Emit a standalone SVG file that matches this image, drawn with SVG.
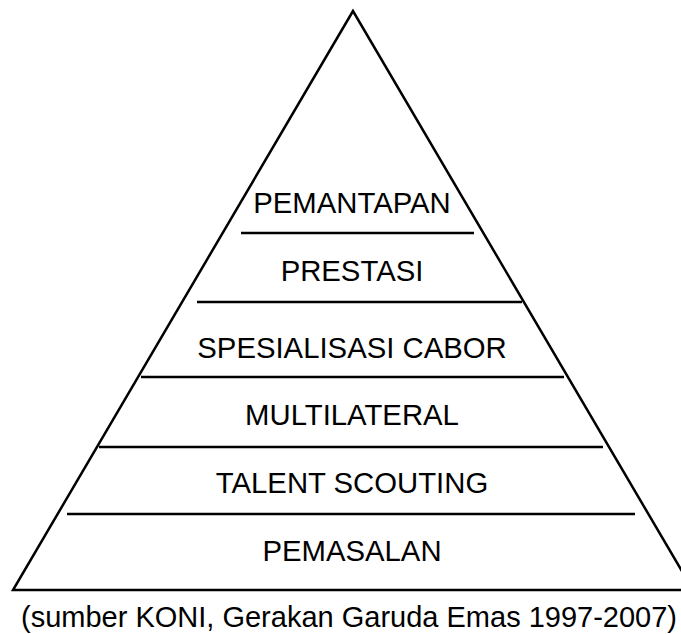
<svg xmlns="http://www.w3.org/2000/svg" width="681" height="634" viewBox="0 0 681 634">
<style>
.ln{stroke:#000;stroke-width:2.5;fill:none}
.t{font-family:"Liberation Sans",Arial,sans-serif;font-size:29.3px;fill:#000;text-anchor:middle}
.c{font-family:"Liberation Sans",Arial,sans-serif;font-size:29px;fill:#000}
</style>
<rect width="681" height="634" fill="#fff"/>
<g id="pyramid">
<polygon class="ln" points="353,11 13,590 693,590" stroke-linejoin="miter"/>
</g>
<g id="dividers">
<line class="ln" x1="241" y1="233" x2="474" y2="233"/>
<line class="ln" x1="197" y1="302" x2="522" y2="302"/>
<line class="ln" x1="141" y1="377" x2="564" y2="377"/>
<line class="ln" x1="99" y1="447" x2="603" y2="447"/>
<line class="ln" x1="67" y1="514" x2="635" y2="514"/>
</g>
<g id="level-pemantapan"><text class="t" x="352" y="213">PEMANTAPAN</text></g>
<g id="level-prestasi"><text class="t" x="352" y="281">PRESTASI</text></g>
<g id="level-spesialisasi"><text class="t" x="352" y="358">SPESIALISASI CABOR</text></g>
<g id="level-multilateral"><text class="t" x="352" y="425">MULTILATERAL</text></g>
<g id="level-talent"><text class="t" x="352" y="493">TALENT SCOUTING</text></g>
<g id="level-pemasalan"><text class="t" x="352" y="561">PEMASALAN</text></g>
<g id="caption"><text class="c" x="21" y="627">(sumber KONI, Gerakan Garuda Emas 1997-2007)</text></g>
</svg>
